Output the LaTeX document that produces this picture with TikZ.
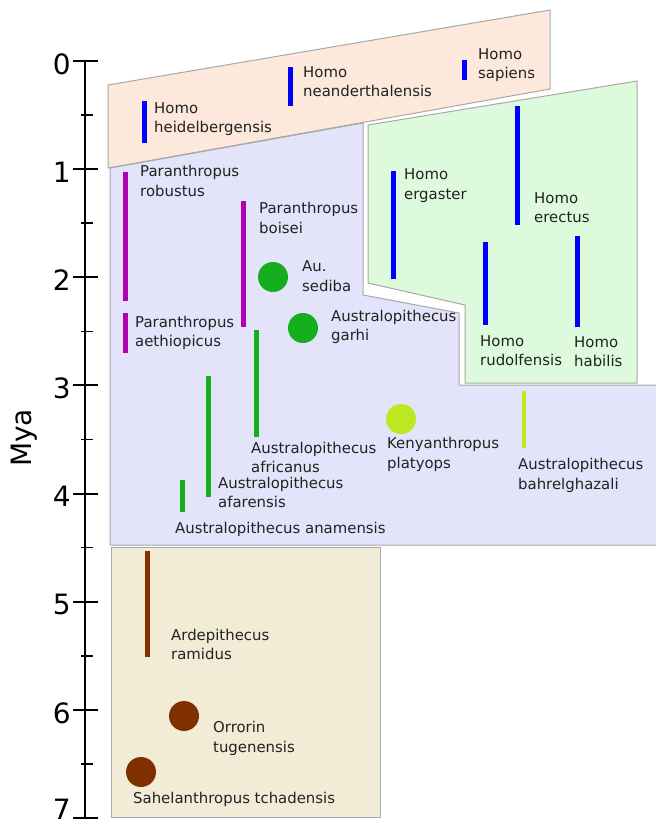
\documentclass[tikz,border=0pt]{standalone}
\usepackage{fontspec}
\setmainfont{DejaVu Sans}
\usepackage{tikz}
\usetikzlibrary{arrows.meta}
\definecolor{homoblue}{HTML}{0000FF}
\definecolor{paramagenta}{HTML}{B000B0}
\definecolor{ausgreen}{HTML}{14AE1E}
\definecolor{kenyalime}{HTML}{BBE81E}
\definecolor{ardibrown}{HTML}{803000}
\definecolor{sapiensfill}{HTML}{FDE9DC}
\definecolor{ausfill}{HTML}{E3E3FA}
\definecolor{erectusfill}{HTML}{DDFADD}
\definecolor{earlyfill}{HTML}{F2ECD6}
\definecolor{edgegrey}{HTML}{A8A8A8}
\definecolor{labelgrey}{HTML}{222222}

\begin{document}
\begin{tikzpicture}[x=1pt, y=-1pt,
    species/.style={font=\fontsize{14.9}{19.5}\selectfont, text=labelgrey, align=left, anchor=west, inner sep=0pt},
    bar/.style={line width=5pt},
    fossil/.style={circle, minimum size=30pt, inner sep=0pt},
    region/.style={draw=edgegrey, line width=1pt}]
  \useasboundingbox (0,0) rectangle (656,828);
  \clip (0,0) rectangle (656,828);

  % regions
  \filldraw[region, fill=ausfill] (110,168) -- (363,123) -- (363,295) -- (459,313) -- (459,385)
    -- (660,385) -- (660,545) -- (110,545) -- cycle;
  \filldraw[region, fill=sapiensfill] (108,85) -- (550,10) -- (550,89) -- (108,168) -- cycle;
  \filldraw[region, fill=erectusfill] (368,125) -- (637,81) -- (637,383) -- (465,383) -- (465,305)
    -- (368,283) -- cycle;
  \filldraw[region, fill=earlyfill] (111,547) rectangle (380,817);

  % time axis
  \draw[line width=2pt] (85,61) -- (85,818);
  \foreach \k in {0,...,7} {
    \draw[line width=2pt] (73,{61+108.14*\k}) -- (98,{61+108.14*\k});
    \node[font=\fontsize{28}{30}\selectfont, anchor=east, inner sep=0pt] (mya\k) at (71,{64+108.14*\k-(\k==7)*12}) {\k};
  }
  \foreach \k in {0,...,6}
    \draw[line width=1.5pt] (81,{115.07+108.14*\k}) -- (93,{115.07+108.14*\k});
  \node[font=\fontsize{28}{30}\selectfont, rotate=90] (axislabel) at (24,438) {Mya};

  % Homo
  \draw[bar, homoblue] (144,101) -- (144,143);
  \node[species] (heidel) at (154,119) {Homo\\heidelbergensis};
  \draw[bar, homoblue] (290,67) -- (290,106);
  \node[species] (neander) at (303,81.5) {Homo\\neanderthalensis};
  \draw[bar, homoblue] (464,60) -- (464,80);
  \node[species] (sapiens) at (478,65) {Homo\\sapiens};
  \draw[bar, homoblue] (393,171) -- (393,279);
  \node[species] (ergaster) at (404,185.5) {Homo\\ergaster};
  \draw[bar, homoblue] (517,106) -- (517,225);
  \node[species] (erectus) at (534,207.5) {Homo\\erectus};
  \draw[bar, homoblue] (485,242) -- (485,325);
  \node[species] (rudolf) at (480,350.5) {Homo\\rudolfensis};
  \draw[bar, homoblue] (577,236) -- (577,327);
  \node[species] (habilis) at (574,351.5) {Homo\\habilis};

  % Paranthropus
  \draw[bar, paramagenta] (125,172) -- (125,301);
  \node[species] (robustus) at (140,181) {Paranthropus\\robustus};
  \draw[bar, paramagenta] (125,313) -- (125,353);
  \node[species] (aethiop) at (135,333) {Paranthropus\\aethiopicus};
  \draw[bar, paramagenta] (243,201) -- (243,327);
  \node[species] (boisei) at (259,218) {Paranthropus\\boisei};

  % Australopithecus
  \node[fossil, fill=ausgreen] (sedibadot) at (273,277) {};
  \node[species] (sediba) at (302,276) {Au.\\sediba};
  \node[fossil, fill=ausgreen] (garhidot) at (303,328) {};
  \node[species] (garhi) at (331,327) {Australopithecus\\garhi};
  \draw[bar, ausgreen] (256,330) -- (256,437);
  \node[species] (africanus) at (251,457.5) {Australopithecus\\africanus};
  \draw[bar, ausgreen] (208,376) -- (208,497);
  \node[species] (afarensis) at (218,492.5) {Australopithecus\\afarensis};
  \draw[bar, ausgreen] (182,480) -- (182,512);
  \node[species] (anamensis) at (175,529) {Australopithecus anamensis};
  \node[fossil, fill=kenyalime] (kenyadot) at (401,419) {};
  \node[species] (kenya) at (387,454.5) {Kenyanthropus\\platyops};
  \draw[bar, kenyalime, line width=4pt] (524,391) -- (524,448);
  \node[species] (bahrel) at (518,475.5) {Australopithecus\\bahrelghazali};

  % early hominins
  \draw[bar, ardibrown] (147,551) -- (147,657);
  \node[species] (ramidus) at (171,644.5) {Ardepithecus\\ramidus};
  \node[fossil, fill=ardibrown] (orrorindot) at (184,716) {};
  \node[species] (orrorin) at (213,738.5) {Orrorin\\tugenensis};
  \node[fossil, fill=ardibrown] (saheldot) at (141,772) {};
  \node[species] (sahel) at (133,799) {Sahelanthropus tchadensis};
\end{tikzpicture}
\end{document}
